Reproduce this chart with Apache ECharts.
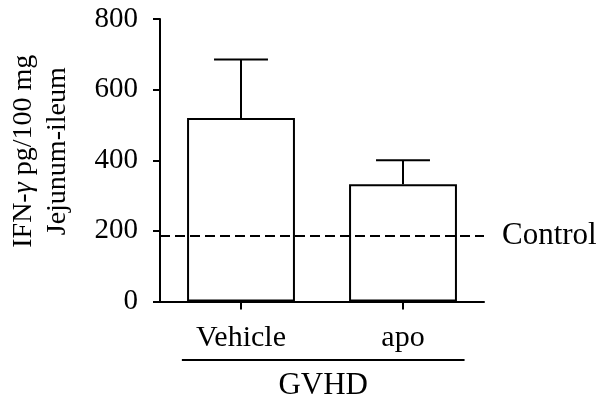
<!DOCTYPE html>
<html><head><meta charset="utf-8">
<script src="https://cdn.jsdelivr.net/npm/echarts@6/dist/echarts.min.js"></script>
<style>html,body{margin:0;padding:0;background:#fff}#c{width:600px;height:406px}</style>
</head><body><div id="c"></div>
<script>
const categories = ['Vehicle', 'apo'];
const means = [520, 332];
const errors = [165, 68];
const controlValue = 185;
const yTicks = [0, 200, 400, 600, 800];
const groupLabel = 'GVHD';

const FONT = '"Liberation Serif", "DejaVu Serif", serif';
const chart = echarts.init(document.getElementById('c'), null, {renderer: 'canvas'});

const option = {
  backgroundColor: '#fff',
  animation: false,
  grid: {left: 160, right: 116, top: 19, bottom: 104.5, containLabel: false, outerBoundsMode: 'none'},
  xAxis: {
    type: 'category',
    data: categories,
    axisLine: {lineStyle: {color: '#000', width: 2}},
    axisTick: {show: true, alignWithLabel: true, length: 8, lineStyle: {color: '#000', width: 2}},
    axisLabel: {color: '#000', fontFamily: FONT, fontSize: 30, margin: 22},
    splitLine: {show: false}
  },
  yAxis: {
    type: 'value',
    min: yTicks[0], max: yTicks[yTicks.length - 1], interval: 200,
    axisLine: {show: true, lineStyle: {color: '#000', width: 2}},
    axisTick: {show: true, length: 7, lineStyle: {color: '#000', width: 2}},
    axisLabel: {color: '#000', fontFamily: FONT, fontSize: 29, margin: 22},
    splitLine: {show: false},
    name: '{a|IFN-}{i|γ}{a| pg/100 mg}\n{a|Jejunum-ileum}',
    nameLocation: 'middle',
    nameRotate: 90,
    nameGap: 85,
    nameMoveOverlap: false,
    nameTextStyle: {
      padding: [0, 0, 0, 18],
      rich: {
        a: {fontFamily: FONT, fontSize: 28, color: '#000', lineHeight: 34},
        i: {fontFamily: FONT, fontSize: 28, color: '#000', fontStyle: 'italic', lineHeight: 34}
      }
    }
  },
  series: [
    {
      type: 'bar',
      data: means,
      barWidth: '66.6%',
      itemStyle: {color: '#fff', borderColor: '#000', borderWidth: 2},
      z: 2,
      markLine: {
        symbol: 'none',
        silent: true,
        lineStyle: {color: '#000', type: [10, 5], width: 2},
        label: {show: true, position: 'end', formatter: 'Control', color: '#000', fontFamily: FONT, fontSize: 31, distance: 18},
        data: [{yAxis: controlValue}]
      }
    },
    {
      type: 'custom',
      z: 3,
      data: means.map((m, i) => [i, m, m + errors[i]]),
      renderItem: function (params, api) {
        const x = api.value(0);
        const lo = api.coord([x, api.value(1)]);
        const hi = api.coord([x, api.value(2)]);
        const bw = api.size([1, 0])[0] * 0.666;
        const half = bw / 4;
        const st = {stroke: '#000', lineWidth: 2};
        return {
          type: 'group',
          children: [
            {type: 'line', shape: {x1: lo[0], y1: lo[1], x2: hi[0], y2: hi[1]}, style: st},
            {type: 'line', shape: {x1: hi[0] - half, y1: hi[1], x2: hi[0] + half, y2: hi[1]}, style: st}
          ]
        };
      }
    }
  ]
};
chart.setOption(option);

// group bracket under the category labels
const p0 = chart.convertToPixel({xAxisIndex: 0, yAxisIndex: 0}, [0, 0]);
const p1 = chart.convertToPixel({xAxisIndex: 0, yAxisIndex: 0}, [1, 0]);
const band = p1[0] - p0[0];
const x1 = p0[0] - band * 0.365;
const x2 = p1[0] + band * 0.38;
const yLine = p0[1] + 58.5;
chart.setOption({
  graphic: [
    {type: 'line', shape: {x1: x1, y1: yLine, x2: x2, y2: yLine}, style: {stroke: '#000', lineWidth: 2}},
    {type: 'text', x: (x1 + x2) / 2, y: yLine + 26, style: {text: groupLabel, fill: '#000', font: '31px ' + FONT, textAlign: 'center', textVerticalAlign: 'middle'}}
  ]
});
</script>
</body></html>
